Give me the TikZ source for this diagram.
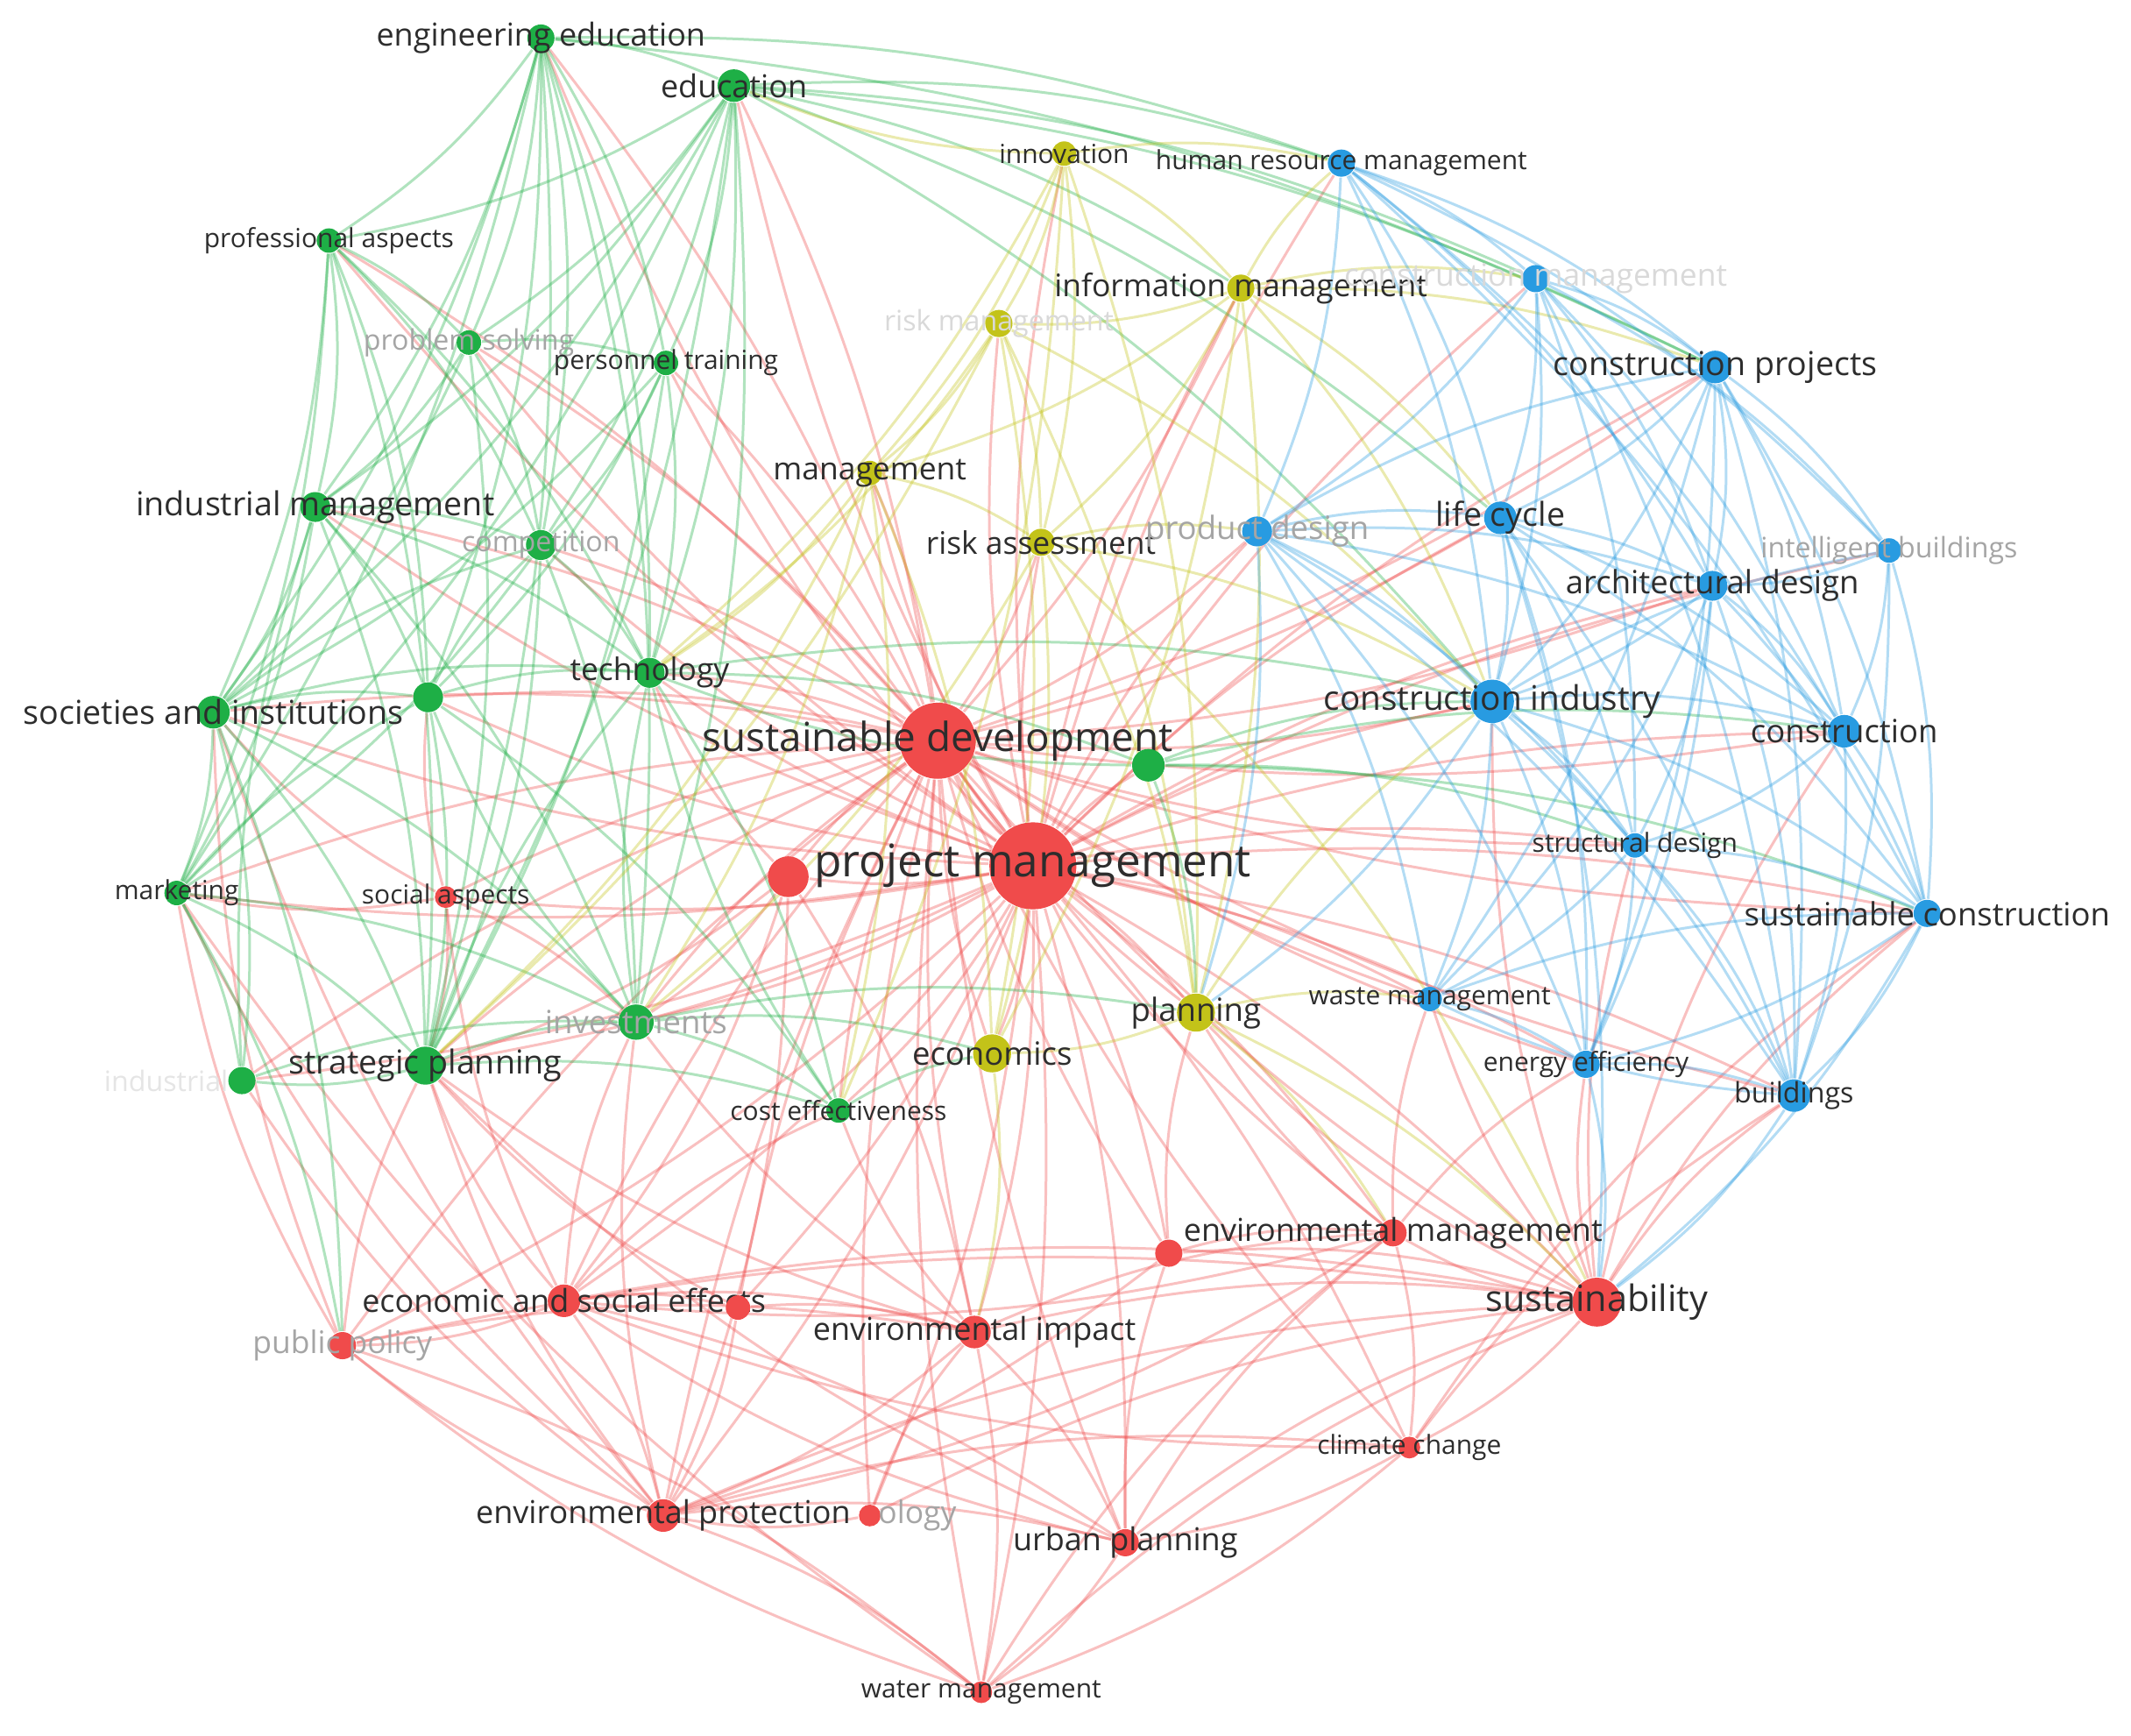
\documentclass[tikz,border=0pt]{standalone}
\usepackage{fontspec}
\setmainfont{Open Sans}
\pgfdeclarelayer{bg}\pgfdeclarelayer{paper}\pgfsetlayers{paper,bg,main}
\definecolor{cR}{RGB}{240,75,75}
\definecolor{cG}{RGB}{30,175,70}
\definecolor{cB}{RGB}{40,155,225}
\definecolor{cY}{RGB}{195,195,25}
\definecolor{tx}{RGB}{45,45,45}
\definecolor{fd}{RGB}{165,165,165}
\tikzset{edge/.style={line width=0.55pt,opacity=0.35},
 dot/.style={circle,inner sep=0,draw=none},
 lab/.style={inner sep=0}}
\newcommand\kw[8]{\node[dot,fill=#4,minimum size=#5*0.2mm] (#1) at (#2,#3) {};
 \node[lab,font=\fontsize{#6}{#6}\selectfont,text=#7] (#1l) at (#2,#3) {#8};}
\begin{document}
\begin{tikzpicture}[x=0.1mm,y=-0.1mm]
\begin{pgfonlayer}{paper}
\useasboundingbox[fill=white] (0,0) rectangle (1568,1277);
\end{pgfonlayer}
% red
\kw{sd}{690}{545}{cR}{28}{8.4}{tx}{sustainable development}
\kw{pm}{760}{637}{cR}{32}{9.4}{tx}{project management}
\kw{sa}{328}{660}{cR}{8}{5.5}{tx}{social aspects}
\kw{rn}{580}{645}{cR}{15}{5}{tx}{}
\kw{ese}{415}{957}{cR}{12}{6.6}{tx}{economic and social effects}
\kw{pp}{252}{990}{cR}{10}{6.5}{fd}{public policy}
\kw{ei}{717}{980}{cR}{12}{6.6}{tx}{environmental impact}
\kw{em}{1025}{907}{cR}{10}{6.6}{tx}{environmental management}
\kw{rt}{860}{922}{cR}{10}{5}{tx}{}
\kw{sus}{1175}{958}{cR}{18}{7.6}{tx}{sustainability}
\kw{cc}{1037}{1065}{cR}{8}{5.5}{tx}{climate change}
\kw{ep}{488}{1115}{cR}{12}{6.6}{tx}{environmental protection}
\kw{eco}{640}{1115}{cR}{8}{6.5}{fd}{\hspace*{7mm}ology}
\kw{up}{828}{1135}{cR}{10}{6.6}{tx}{urban planning}
\kw{wm}{722}{1245}{cR}{8}{5.5}{tx}{water management}
\kw{r2}{543}{962}{cR}{9}{5}{tx}{}
% green
\kw{ee}{398}{28}{cG}{10}{6.6}{tx}{engineering education}
\kw{edu}{540}{63}{cG}{12}{6.6}{tx}{education}
\kw{pa}{242}{177}{cG}{9}{5.5}{tx}{professional aspects}
\kw{ps}{345}{252}{cG}{9}{5.9}{fd}{problem solving}
\kw{pt}{490}{267}{cG}{9}{5.5}{tx}{personnel training}
\kw{im}{232}{373}{cG}{11}{6.9}{tx}{industrial management}
\kw{comp}{398}{401}{cG}{11}{5.9}{fd}{competition}
\kw{tech}{478}{495}{cG}{11}{6.5}{tx}{technology}
\kw{si}{157}{524}{cG}{12}{6.9}{tx}{societies and institutions}
\kw{ga}{315}{513}{cG}{11}{5}{tx}{}
\kw{gb}{845}{563}{cG}{12}{5}{tx}{}
\kw{mk}{130}{657}{cG}{9}{5.5}{tx}{marketing}
\kw{inv}{468}{752}{cG}{13}{6.7}{fd}{investments}
\kw{sp}{313}{784}{cG}{14}{6.9}{tx}{strategic planning}
\node[dot,fill=cG,minimum size=2mm] (ind) at (178,795) {};
\node[lab,font=\fontsize{5.9}{5.9}\selectfont,text=black!10,anchor=west] (indl) at (76,795) {industrial};
\kw{ce}{617}{817}{cG}{9}{5.5}{tx}{cost effectiveness}
% yellow
\kw{inn}{783}{113}{cY}{9}{5.5}{tx}{innovation}
\kw{info}{913}{212}{cY}{10}{6.5}{tx}{information management}
\kw{rm}{735}{238}{cY}{10}{5.9}{black!15}{risk management}
\kw{man}{640}{348}{cY}{9}{6.5}{tx}{management}
\kw{ra}{766}{399}{cY}{10}{6.5}{tx}{risk assessment}
\kw{pl}{880}{745}{cY}{14}{6.7}{tx}{planning}
\kw{econ}{730}{775}{cY}{14}{6.7}{tx}{economics}
% blue
\kw{hrm}{987}{120}{cB}{10}{5.5}{tx}{human resource management}
\kw{cm}{1130}{205}{cB}{10}{6.5}{black!15}{construction management}
\kw{cp}{1262}{270}{cB}{12}{6.9}{tx}{construction projects}
\kw{pd}{925}{391}{cB}{11}{6.7}{fd}{product design}
\kw{lc}{1104}{381}{cB}{12}{6.9}{tx}{life cycle}
\kw{ib}{1390}{405}{cB}{9}{5.9}{fd}{intelligent buildings}
\kw{ad}{1260}{431}{cB}{11}{6.7}{tx}{architectural design}
\kw{ci}{1098}{516}{cB}{16}{7.1}{tx}{construction industry}
\kw{con}{1357}{538}{cB}{12}{6.7}{tx}{construction}
\kw{sdd}{1203}{622}{cB}{9}{5.5}{tx}{structural design}
\kw{sc}{1418}{672}{cB}{10}{6.7}{tx}{sustainable construction}
\kw{wam}{1052}{735}{cB}{9}{5.5}{tx}{waste management}
\kw{eef}{1167}{783}{cB}{10}{5.5}{tx}{energy efficiency}
\kw{bu}{1320}{806}{cB}{12}{5.9}{tx}{buildings}
\begin{pgfonlayer}{bg}
\foreach \b in {sd,sa,rn,ese,pp,ei,em,rt,sus,cc,ep,eco,up,wm,r2,sp,si,mk,tech,inv,ce,im,edu,ee,pl,econ,man,ra,info,ci,con,bu,sc,wam,eef,lc,pd,cp,ad,ga,gb,ind,comp,pt,hrm,sdd,inn,pa,ps,rm,ib,cm}
  \draw[edge,cR] (pm) to[bend left=8] (\b);
\foreach \b in {ese,ep,ei,sus,em,up,wm,cc,pp,sa,r2,rn,rt,eco,sp,si,mk,inv,ce,im,ga,tech,comp,pt,ps,edu,ee,pa,ind,ci,lc,cp,bu,sc,con,ad,pl,econ,ra,man,info,wam,eef,sdd,pd}
  \draw[edge,cR] (sd) to[bend right=8] (\b);
\foreach \a/\b in {ese/ep,ese/pp,ese/ei,ep/up,ep/wm,ep/pp,up/wm,ei/up,ei/wm,ei/sus,sus/em,sus/cc,cc/wm,em/cc,ep/sus,ese/sus,pp/wm,ese/up,ei/em,ei/ep,sus/bu,sus/ci,sus/sc,sus/eef,sus/wam,up/sus,cc/up,ep/cc,r2/ei,rt/sus,rt/ep,pp/sp,pp/si,pp/mk,ese/sp,ese/sa,sa/sp,sa/si,sa/mk,ep/ind,ese/r2,wm/sus,wm/pp,eco/ep,eco/sus,rn/ese,rn/ep,rn/ei,em/ep,em/ese,up/ese,pp/ei,sus/con,cc/bu,em/wam,rt/em,pp/sus,ep/si,ep/mk,wm/mk,ep/sp,up/sp,cc/ese,ei/sp,ei/inv,ese/inv,ep/inv,sus/pl,em/pl,em/eef,sus/sdd,rt/pl,r2/sp,r2/ep,ei/ce,ese/ce,up/em,wm/em,cc/sc,eco/ei,up/rt,rn/sp,rn/inv,sa/inv,sa/ga,rn/tech}
  \draw[edge,cR] (\a) to[bend left=10] (\b);
\foreach \a/\b in {ee/edu,ee/pa,ee/im,ee/si,ee/sp,ee/tech,ee/pt,ee/ps,edu/pa,edu/pt,edu/ps,edu/comp,edu/tech,edu/si,edu/inv,edu/hrm,edu/cp,edu/ci,pa/ps,pa/im,pa/si,pa/mk,pa/sp,ps/pt,ps/comp,im/si,im/comp,im/mk,im/sp,im/tech,si/mk,si/sp,si/ga,si/ind,mk/sp,mk/ind,ga/tech,comp/tech,sp/inv,sp/ce,inv/ce,inv/tech,gb/ci,gb/tech,ga/sp,sp/ind,comp/sp,pt/tech,si/tech,mk/inv,inv/ga,ce/econ,tech/gb,ee/mk,ee/cp,edu/lc,pa/comp,pt/comp,im/ga,im/inv,si/inv,si/comp,ga/comp,mk/ga,sp/tech,inv/econ,pt/ga,ee/ga,edu/sp,ps/im,ind/im,ind/inv,ce/tech,gb/pl,gb/sdd,ee/inv,edu/mk,pa/ga,pa/tech,pt/si,pt/sp,ps/si,ps/sp,comp/inv,comp/mk,ga/ce,tech/ce,edu/im,ee/comp,ee/hrm,edu/info,edu/cm,gb/con,gb/sc,tech/ci,inv/pl,mk/pp,si/pp}
  \draw[edge,cG] (\a) to[bend left=10] (\b);
\foreach \a/\b in {inn/info,inn/rm,inn/man,inn/ra,inn/hrm,info/rm,info/ra,info/man,rm/man,rm/ra,man/ra,ra/pl,pl/econ,man/econ,info/pl,rm/pl,inn/edu,ra/pd,info/hrm,man/sp,pl/sus,inn/ce,rm/econ,info/ci,info/lc,man/tech,ra/ci,inn/pl,info/econ,rm/sp,ra/econ,pl/ci,inn/tech,rm/tech,man/inv,ra/inv,info/cp,info/cm,pl/em,pl/wam,econ/ei,ra/sus,man/ce,rm/ci}
  \draw[edge,cY] (\a) to[bend left=10] (\b);
\foreach \a/\b in {hrm/cm,hrm/cp,hrm/lc,hrm/pd,hrm/ci,hrm/ib,cm/cp,cm/lc,cm/ad,cm/ci,cm/ib,cp/lc,cp/ad,cp/ci,cp/con,cp/ib,pd/lc,pd/ci,lc/ad,lc/ci,ib/ad,ib/con,ib/sc,ad/ci,ad/con,ad/sc,ci/con,ci/sdd,ci/wam,ci/eef,ci/bu,con/sc,con/bu,con/sdd,sdd/wam,sdd/eef,sc/bu,wam/eef,eef/bu,sc/eef,bu/wam,pd/ad,ib/bu,cp/sc,hrm/ad,pd/sdd,pd/wam,lc/sdd,lc/eef,cm/sdd,hrm/con,cp/bu,ad/bu,ad/sdd,ci/sc,lc/con,pd/cp,cm/pd,wam/sc,pd/eef,lc/bu,hrm/sc,cm/con,cm/bu,lc/sc,pd/con,pd/bu,ad/wam,ad/eef,ci/ib,sdd/sc,sdd/bu,cp/eef,cp/wam,bu/sus,sc/sus,eef/sus,ci/pl,pd/pl,lc/sus}
  \draw[edge,cB] (\a) to[bend left=10] (\b);
\end{pgfonlayer}
\end{tikzpicture}
\end{document}
